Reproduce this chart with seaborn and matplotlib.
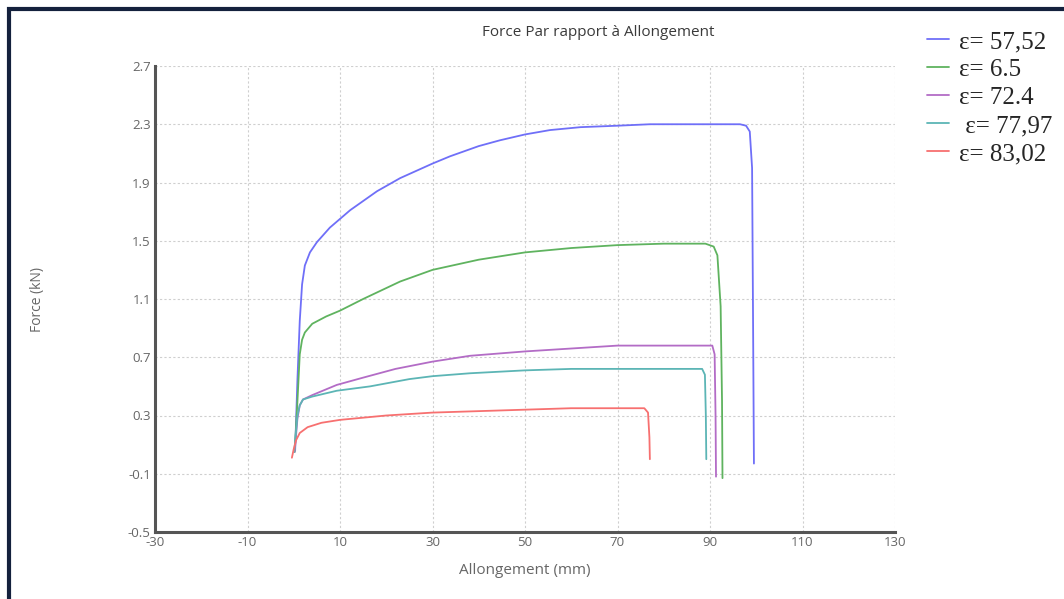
import matplotlib
matplotlib.use("Agg")
import matplotlib.pyplot as plt
import matplotlib.patches as mpatches
import numpy as np
import pandas as pd
import seaborn as sns

# curves (Allongement mm, Force kN)
x_5752 = [0.3, 0.8, 1.3, 1.8, 2.4, 3.5, 5.0, 7.8, 12.2, 18.0, 23.0, 30.0, 33.8, 40.0, 44.6, 50.0, 55.4, 62.0, 70.0, 77.0, 85.0, 92.0, 96.5, 97.8, 98.6, 99.1, 99.3, 99.5]
y_5752 = [0.06, 0.55, 0.95, 1.20, 1.33, 1.42, 1.49, 1.59, 1.71, 1.84, 1.93, 2.03, 2.08, 2.15, 2.19, 2.23, 2.26, 2.28, 2.29, 2.30, 2.30, 2.30, 2.30, 2.29, 2.25, 2.00, 1.00, -0.03]

x_65 = [0.2, 0.8, 1.3, 1.8, 2.4, 4.0, 7.0, 10.0, 15.0, 23.0, 30.0, 40.0, 50.0, 60.0, 70.0, 80.0, 89.0, 90.8, 91.6, 92.3, 92.6, 92.7]
y_65 = [0.05, 0.40, 0.72, 0.82, 0.87, 0.93, 0.98, 1.02, 1.10, 1.22, 1.30, 1.37, 1.42, 1.45, 1.47, 1.48, 1.48, 1.46, 1.40, 1.05, 0.40, -0.13]

x_724 = [0.2, 0.8, 1.3, 2.0, 4.0, 9.3, 15.0, 22.0, 30.0, 38.1, 50.0, 60.0, 70.0, 80.0, 90.5, 91.0, 91.2, 91.3]
y_724 = [0.05, 0.28, 0.37, 0.41, 0.44, 0.51, 0.56, 0.62, 0.67, 0.71, 0.74, 0.76, 0.78, 0.78, 0.78, 0.72, 0.30, -0.12]

x_7797 = [0.1, 0.8, 1.3, 2.0, 4.0, 9.3, 16.5, 25.0, 30.0, 38.1, 50.0, 60.0, 70.0, 80.0, 88.3, 88.9, 89.1, 89.2]
y_7797 = [0.05, 0.30, 0.37, 0.41, 0.43, 0.47, 0.50, 0.55, 0.57, 0.59, 0.61, 0.62, 0.62, 0.62, 0.62, 0.58, 0.30, 0.00]

x_8302 = [-0.4, 0.0, 0.5, 1.3, 3.0, 6.0, 10.0, 20.0, 30.0, 40.0, 50.0, 60.0, 70.0, 75.8, 76.6, 76.9, 77.0]
y_8302 = [0.01, 0.07, 0.13, 0.18, 0.22, 0.25, 0.27, 0.30, 0.32, 0.33, 0.34, 0.35, 0.35, 0.35, 0.32, 0.15, 0.00]

labels = ["ε= 57,52", "ε= 6.5", "ε= 72.4", " ε= 77,97", "ε= 83,02"]
colors = ["#6f6ff8", "#5fb35f", "#b36cc6", "#5cb5b5", "#f77070"]

x_ticks = [-30, -10, 10, 30, 50, 70, 90, 110, 130]
y_ticks = [-0.5, -0.1, 0.3, 0.7, 1.1, 1.5, 1.9, 2.3, 2.7]

frames = []
for lab, xs, ys in zip(labels,
                       [x_5752, x_65, x_724, x_7797, x_8302],
                       [y_5752, y_65, y_724, y_7797, y_8302]):
    frames.append(pd.DataFrame({"x": xs, "y": ys, "serie": lab}))
df = pd.concat(frames, ignore_index=True)

sns.set_style("white")
plt.rcParams['font.family'] = ['Open Sans', 'DejaVu Sans']

fig = plt.figure(figsize=(10.64, 5.99), dpi=100)
ax = fig.add_axes([155 / 1064, 67 / 599, 740 / 1064, 466 / 599])

sns.lineplot(data=df, x="x", y="y", hue="serie", palette=colors,
             sort=False, estimator=None, linewidth=1.3, ax=ax)

ax.set_xlim(-30, 130)
ax.set_ylim(-0.5, 2.7)
ax.set_xticks(x_ticks)
ax.set_yticks(y_ticks)
ax.set_xticklabels([str(t) for t in x_ticks])
ax.set_yticklabels([f"{t:.1f}" for t in y_ticks])
ax.tick_params(length=0, labelsize=9.5, labelcolor="#666666", pad=3)
ax.grid(True, color="#cfcfcf", linestyle=(0, (2, 2)), linewidth=0.8)

for s in ["top", "right"]:
    ax.spines[s].set_visible(False)
for s in ["left", "bottom"]:
    ax.spines[s].set_color("#555555")
    ax.spines[s].set_linewidth(2.2)

ax.set_xlabel("Allongement (mm)", fontsize=11, color="#666666", labelpad=10)
ax.set_ylabel("Force (kN)", fontsize=10, color="#666666")
ax.yaxis.set_label_coords(-110 / 740, 0.5)
fig.text(598 / 1064, 1 - 32 / 599, "Force Par rapport à Allongement",
         ha="center", va="center", fontsize=11, color="#3a3a3a")

handles, labs = ax.get_legend_handles_labels()
leg = ax.legend(handles, labs, loc="upper left",
                bbox_to_anchor=(904 / 1064, 1 - 8 / 599),
                bbox_transform=fig.transFigure, frameon=False,
                handlelength=0.9, handletextpad=0.4, labelspacing=0.22,
                prop={"family": "Liberation Serif", "size": 18})

# dark outer frame of the screenshot
fig.patches.append(mpatches.Rectangle((9 / 1064, -0.01), 1.05, 1 - 9 / 599 + 0.01,
                                      transform=fig.transFigure, fill=False,
                                      edgecolor="#14213d", linewidth=3))

fig.savefig("out.png", dpi=100)
